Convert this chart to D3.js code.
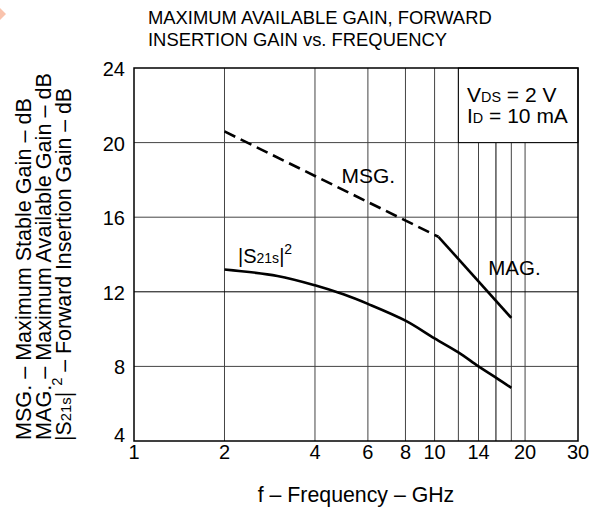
<!DOCTYPE html>
<html><head><meta charset="utf-8">
<script src="https://cdn.jsdelivr.net/npm/d3@7"></script>
<style>
html,body{margin:0;padding:0;background:#fff;}
text{font-family:"Liberation Sans",Arial,Helvetica,sans-serif;fill:#000;}
</style></head>
<body>
<svg id="c" width="593" height="513"></svg>
<script>
// ---- data ----
const titleLines = ["MAXIMUM AVAILABLE GAIN, FORWARD", "INSERTION GAIN vs. FREQUENCY"];
const xTicks = [1, 2, 4, 6, 8, 10, 14, 20, 30];
const xGrid = [2, 4, 6, 8, 10, 12, 14, 16, 18, 20];
const yTicks = [4, 8, 12, 16, 20, 24];
const msgFreq = [2, 10.3];
const msgGain = [20.6, 14.95];
const magFreq = [10.3, 18];
const magGain = [14.95, 10.6];
const s21Freq = [2, 3, 4, 5, 6, 8, 10, 12, 14, 16, 18];
const s21Gain = [13.2, 12.85, 12.35, 11.85, 11.35, 10.45, 9.5, 8.75, 8.0, 7.4, 6.85];

const svg = d3.select("#c");
const L = 134, R = 578, T = 68, B = 441;
const x = d3.scaleLog().domain([1, 30]).range([L, R]);
const y = d3.scaleLinear().domain([4, 24]).range([B, T]);

// orange artifact in corner
svg.append("path").attr("d", "M0,8 L6,14 L0,20 Z").attr("fill", "#f9c3ad");

// title
svg.append("g").selectAll("text").data(titleLines).join("text")
  .attr("x", 148).attr("y", (d, i) => 24 + i * 22)
  .attr("font-size", 18.4).text(d => d);

// grid
const g = svg.append("g");
g.selectAll("line.v").data(xGrid).join("line")
  .attr("x1", d => x(d)).attr("x2", d => x(d))
  .attr("y1", B).attr("y2", d => d > 12 ? y(20) : T)
  .attr("stroke", d => d === 16 ? "#000" : "#444").attr("stroke-width", 1);
g.selectAll("line.h").data(yTicks.filter(v => v > 4 && v < 24)).join("line")
  .attr("x1", L).attr("x2", R)
  .attr("y1", d => y(d)).attr("y2", d => y(d))
  .attr("stroke", d => d === 12 ? "#000" : "#444").attr("stroke-width", 1);

// y tick labels
svg.append("g").selectAll("text").data(yTicks).join("text")
  .attr("x", 125).attr("y", d => d === 4 ? y(d) + 1 : y(d) + 8)
  .attr("text-anchor", "end").attr("font-size", 20).text(d => d);

// x tick labels
svg.append("g").selectAll("text").data(xTicks).join("text")
  .attr("x", d => x(d)).attr("y", 458.5)
  .attr("text-anchor", "middle").attr("font-size", 20).text(d => d);

// x axis title
svg.append("text").attr("x", 356).attr("y", 501.5).attr("text-anchor", "middle")
  .attr("font-size", 21.3).text("f \u2013 Frequency \u2013 GHz");

// y axis titles
const yt = svg.append("g").attr("transform", "rotate(-90)");
function fit(t, target) {
  const w = t.node().getComputedTextLength();
  const fs = 21.5 * target / w;
  t.attr("font-size", fs);
  t.selectAll("tspan.s").attr("font-size", fs * 0.7);
}
const t1 = yt.append("text").attr("x", -440).attr("y", 31).attr("font-size", 21.5)
  .text("MSG. \u2013 Maximum Stable Gain \u2013 dB");
fit(t1, 342);
const t2 = yt.append("text").attr("x", -440).attr("y", 51).attr("font-size", 21.5)
  .text("MAG. \u2013 Maximum Available Gain \u2013 dB");
fit(t2, 367);
const t3 = yt.append("text").attr("x", -441).attr("y", 71).attr("font-size", 21.5);
t3.append("tspan").text("|S");
t3.append("tspan").attr("class", "s").attr("font-size", 15).text("21s");
t3.append("tspan").text("| ");
t3.append("tspan").attr("class", "s").attr("font-size", 15).attr("dy", -9).text("2");
t3.append("tspan").attr("dy", 9).text(" \u2013 Forward Insertion Gain \u2013 dB");
fit(t3, 353);

// legend box
svg.append("rect").attr("x", x(12)).attr("y", T).attr("width", R - x(12)).attr("height", y(20) - T)
  .attr("fill", "#fff").attr("stroke", "#000").attr("stroke-width", 1);
// frame
svg.append("rect").attr("x", L).attr("y", T).attr("width", R - L).attr("height", B - T)
  .attr("fill", "none").attr("stroke", "#000").attr("stroke-width", 1.5);
const lg1 = svg.append("text").attr("x", 467).attr("y", 101.7).attr("font-size", 21);
lg1.append("tspan").text("V");
lg1.append("tspan").attr("font-size", 14.4).text("DS");
lg1.append("tspan").text(" = 2 V");
const lg2 = svg.append("text").attr("x", 467).attr("y", 123.3).attr("font-size", 21);
lg2.append("tspan").text("I");
lg2.append("tspan").attr("font-size", 14.4).text("D");
lg2.append("tspan").text(" = 10 mA");

// curves
const line = d3.line().x(d => x(d[0])).y(d => y(d[1]));
svg.append("path").datum(d3.zip(msgFreq, msgGain)).attr("d", line)
  .attr("fill", "none").attr("stroke", "#000").attr("stroke-width", 2.6)
  .attr("stroke-dasharray", "12,6");
svg.append("path").datum(d3.zip(magFreq, magGain)).attr("d", line)
  .attr("fill", "none").attr("stroke", "#000").attr("stroke-width", 2.6);
const cline = d3.line().x(d => x(d[0])).y(d => y(d[1])).curve(d3.curveCatmullRom.alpha(0.5));
svg.append("path").datum(d3.zip(s21Freq, s21Gain)).attr("d", cline)
  .attr("fill", "none").attr("stroke", "#000").attr("stroke-width", 2.6);

// curve labels
svg.append("text").attr("x", 341.5).attr("y", 183.3).attr("font-size", 21).text("MSG.");
svg.append("text").attr("x", 488.3).attr("y", 275).attr("font-size", 20.5).text("MAG.");
const sl = svg.append("text").attr("x", 238).attr("y", 263.3).attr("font-size", 20);
sl.append("tspan").text("|S");
sl.append("tspan").attr("font-size", 14).text("21s");
sl.append("tspan").text("|");
sl.append("tspan").attr("font-size", 14).attr("dy", -9).text("2");
</script>
</body></html>
